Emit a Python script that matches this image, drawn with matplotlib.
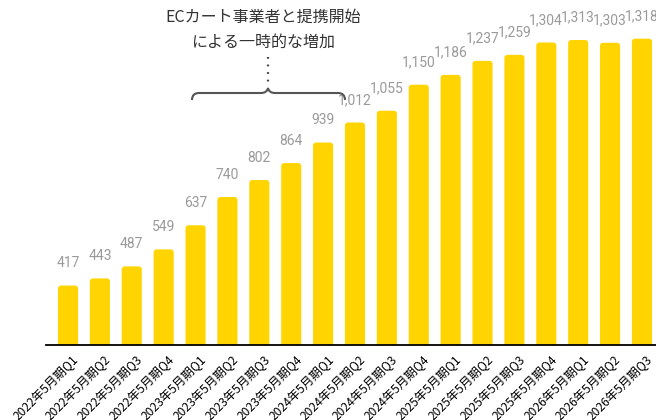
import matplotlib
matplotlib.use("Agg")
import matplotlib.pyplot as plt
import matplotlib.transforms as mtransforms
from matplotlib.patches import FancyBboxPatch, PathPatch
from matplotlib.path import Path
from matplotlib.lines import Line2D

plt.rcParams['font.family'] = ['Roboto', 'Noto Sans CJK JP', 'DejaVu Sans']

categories = ["2022年5月期Q1", "2022年5月期Q2", "2022年5月期Q3", "2022年5月期Q4",
              "2023年5月期Q1", "2023年5月期Q2", "2023年5月期Q3", "2023年5月期Q4",
              "2024年5月期Q1", "2024年5月期Q2", "2024年5月期Q3", "2024年5月期Q4",
              "2025年5月期Q1", "2025年5月期Q2", "2025年5月期Q3", "2025年5月期Q4",
              "2026年5月期Q1", "2026年5月期Q2", "2026年5月期Q3"]
values = [417, 443, 487, 549, 637, 740, 802, 864, 939, 1012, 1055, 1150,
          1186, 1237, 1259, 1304, 1313, 1303, 1318]
annotation_lines = ["ECカート事業者と提携開始", "による一時的な増加"]

W, H = 656, 420
fig = plt.figure(figsize=(W / 100, H / 100), dpi=100)
ax = fig.add_axes([46 / W, (H - 345) / H, 610 / W, (345 - 2.5) / H])

bar_color = "#FFD400"
x = list(range(len(values)))
bars = ax.bar(x, values, width=0.63, color=bar_color)
ax.set_ylim(200, 1450)
ax.set_xlim(-0.69, 18.44)

# rounded tops
px_per_x = 610 / (18.44 + 0.69)
px_per_y = (345 - 2.5) / 1250
for b in bars:
    bx, by = b.get_x(), b.get_y()
    bw, bh = b.get_width(), b.get_height()
    b.remove()
    p = FancyBboxPatch((bx, by), bw, bh,
                       boxstyle="round,pad=0,rounding_size=%f" % (3 / px_per_x),
                       mutation_aspect=px_per_x / px_per_y,
                       facecolor=bar_color, edgecolor="none")
    ax.add_patch(p)

for xi, v in zip(x, values):
    ax.annotate(f"{v:,}", (xi, v), xytext=(0, 11), textcoords="offset points",
                ha="center", va="bottom", fontsize=10, color="#9a9a9a",
                annotation_clip=False)

for s in ["top", "right", "left"]:
    ax.spines[s].set_visible(False)
ax.spines["bottom"].set_color("black")
ax.spines["bottom"].set_linewidth(1.3)
ax.set_yticks([])
ax.set_xticks(x)
ax.set_xticklabels(categories, rotation=45, ha="right", va="top",
                   rotation_mode="anchor", fontsize=8.7, color="black",
                   family=['Noto Sans CJK JP', 'DejaVu Sans'])
ax.tick_params(axis="x", length=0, pad=6)
offset = mtransforms.ScaledTranslation(4 / 100, 0, fig.dpi_scale_trans)
for lbl in ax.get_xticklabels():
    lbl.set_transform(lbl.get_transform() + offset)


def fp(px, py):
    return (px / W, 1 - py / H)


# brace
xl, xr, xc = 192, 345, 268
yh, ye, yp = 93, 100, 88
verts = [fp(xl, ye), fp(xl, yh), fp(xl + 7, yh),
         fp(xc - 7, yh),
         fp(xc - 1, yh), fp(xc, yp),
         fp(xc + 1, yh), fp(xc + 7, yh),
         fp(xr - 7, yh),
         fp(xr, yh), fp(xr, ye)]
codes = [Path.MOVETO, Path.CURVE3, Path.CURVE3,
         Path.LINETO,
         Path.CURVE3, Path.CURVE3,
         Path.CURVE3, Path.CURVE3,
         Path.LINETO,
         Path.CURVE3, Path.CURVE3]
fig.patches.append(PathPatch(Path(verts, codes), transform=fig.transFigure,
                             facecolor="none", edgecolor="#555555", lw=1.5))

(x0, y0), (x1, y1) = fp(xc, 57), fp(xc, 84)
fig.lines.append(Line2D([x0, x1], [y0, y1], transform=fig.transFigure,
                        color="#444444", lw=1.6, linestyle=(0, (0.8, 2.6))))

for i, line in enumerate(annotation_lines):
    tx, ty = fp(xc - 5, 17 + 25 * i)
    fig.text(tx, ty, line, ha="center", va="center", fontsize=11.5, color="#333333",
             family=['Noto Sans CJK JP', 'DejaVu Sans'])

fig.savefig("out.png", dpi=100)
